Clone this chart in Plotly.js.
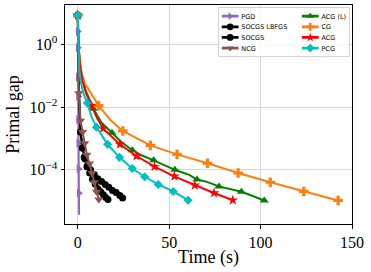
<!DOCTYPE html>
<html><head><meta charset="utf-8">
<script src="https://cdn.plot.ly/plotly-3.0.1.min.js"></script>
<style>html,body{margin:0;padding:0;background:#fff}</style>
</head><body><div id="chart" style="width:371px;height:272px"></div>
<script>
// ---- data (time in s, primal gap) ----
const pgdTime = [0, 0.05, 0.1, 0.15, 0.2, 0.3, 0.4, 0.5, 0.6, 0.7];
const pgdGap  = [8.5, 2.6, 0.79, 0.091, 0.022, 0.004, 7.2e-4, 1.07e-4, 1.8e-5, 3.7e-6];
const pgdMarks = [0, 1, 2, 3, 4, 5, 6, 7, 8];

const lbfgsTime = [0, 0.3, 0.8, 1.5, 2.5, 4, 5.5, 7, 9, 11, 13, 15, 17, 19, 21, 23, 24.5];
const lbfgsGap  = [8.5, 0.32, 0.016, 1.6e-3, 5e-4, 2.2e-4, 1.4e-4, 1e-4, 7.1e-5, 5.2e-5, 4.2e-5, 3.4e-5, 2.75e-5, 2.2e-5, 1.9e-5, 1.5e-5, 1.26e-5];
const lbfgsMarks = [0, 3, 4, 5, 6, 7, 8, 9, 10, 11, 12, 13, 14, 15, 16];

const socgsTime = [0, 0.3, 0.8, 1.5, 2.5, 3.5, 5, 6.5, 8, 9.5, 11, 12.5, 14, 15.3, 16.5];
const socgsGap  = [8.5, 0.32, 0.016, 1.6e-3, 5e-4, 2.5e-4, 1.26e-4, 7.9e-5, 5e-5, 3.5e-5, 2.5e-5, 2e-5, 1.6e-5, 1.3e-5, 1.12e-5];
const socgsMarks = [0, 3, 4, 5, 6, 7, 8, 9, 10, 11, 12, 13, 14];

const ncgTime = [0, 0.5, 1.5, 2.6, 3.8, 5, 6.4, 7.8, 9, 10.2, 11.5];
const ncgGap  = [8.5, 0.028, 3.7e-3, 1.6e-3, 7.1e-4, 3e-4, 1.6e-4, 7.9e-5, 4e-5, 2e-5, 1.12e-5];
const ncgMarks = [0, 1, 2, 3, 4, 5, 6, 7, 8, 9, 10];

const acglTime = [0, 0.4, 1.2, 2.5, 4.5, 8.5, 13, 18.7, 24, 29.8, 35.5, 41.5, 47, 53.1, 56, 61, 65.2, 70.3, 77.2, 83, 89.5, 95, 102];
const acglGap  = [8.5, 1, 0.25, 0.079, 0.032, 8.9e-3, 3.2e-3, 1.51e-3, 7.6e-4, 4.2e-4, 2.8e-4, 2.0e-4, 1.41e-4, 1e-4, 8.7e-5, 6.9e-5, 4.9e-5, 4.2e-5, 2.95e-5, 2.5e-5, 2.0e-5, 1.51e-5, 1.05e-5];
const acglMarks = [0, 5, 7, 9, 11, 13, 16, 18, 20, 22];

const cgTime = [0, 0.3, 1, 2, 4, 6.5, 9, 11.4, 18, 24.6, 39.7, 54.3, 71, 87.7, 105.3, 123.6, 142.4];
const cgGap  = [8.5, 1.0, 0.32, 0.126, 0.056, 0.032, 0.018, 0.0112, 3.8e-3, 1.74e-3, 6.0e-4, 3.1e-4, 1.62e-4, 7.9e-5, 4e-5, 2.04e-5, 1.05e-5];
const cgMarks = [0, 7, 9, 10, 11, 12, 13, 14, 15, 16];

const acgTime = [0, 0.4, 1.2, 2.5, 4.5, 7.5, 10.5, 13.8, 23, 32.1, 42, 52.8, 64, 74.5, 84.8];
const acgGap  = [8.5, 0.89, 0.224, 0.071, 0.028, 0.0112, 4.5e-3, 2.1e-3, 6.5e-4, 2.75e-4, 1.26e-4, 6.2e-5, 3.2e-5, 1.82e-5, 1.07e-5];
const acgMarks = [0, 5, 7, 8, 9, 10, 11, 12, 13, 14];

const pcgTime = [0, 0.3, 0.8, 1.5, 3, 5.2, 7.5, 10.2, 16.3, 22.8, 29.8, 36.6, 44, 52.2, 60.3];
const pcgGap  = [8.5, 0.5, 0.158, 0.071, 0.028, 0.0135, 5e-3, 2.3e-3, 6.5e-4, 2.5e-4, 1.1e-4, 6e-5, 3.4e-5, 2.04e-5, 1.07e-5];
const pcgMarks = [0, 5, 7, 8, 9, 10, 11, 12, 13, 14];

const xTicks = [0, 50, 100, 150];
const yTicks = [1, 1e-2, 1e-4];
const yTickText = ['10<sup>0</sup>', '10<sup>−2</sup>', '10<sup>−4</sup>'];

// ---- build traces ----
const traces = [];
function addSeries(name, t, g, marks, color, symbol, msize, rank) {
  traces.push({x: t, y: g, type: 'scatter', mode: 'lines', line: {color: color, width: 2},
               showlegend: false, hoverinfo: 'skip'});
  const mx = [], my = [];
  marks.forEach(i => { mx.push(t[i], null); my.push(g[i], null); });
  traces.push({x: mx, y: my, type: 'scatter', mode: 'lines+markers', connectgaps: false,
               name: name, legendrank: rank, line: {color: color, width: 2.5},
               marker: {color: color, symbol: symbol, size: msize}});
}
addSeries('PGD', pgdTime, pgdGap, pgdMarks, '#9467bd', 'triangle-right', 8, 1);
addSeries('SOCGS LBFGS', lbfgsTime, lbfgsGap, lbfgsMarks, '#000000', 'circle', 7, 3);
addSeries('SOCGS', socgsTime, socgsGap, socgsMarks, '#000000', 'circle', 7, 5);
addSeries('NCG', ncgTime, ncgGap, ncgMarks, '#8c564b', 'triangle-down', 8, 7);
addSeries('ACG (L)', acglTime, acglGap, acglMarks, '#008000', 'triangle-up', 8, 2);
addSeries('CG', cgTime, cgGap, cgMarks, '#ff7f0e', 'cross', 8, 4);
addSeries('ACG', acgTime, acgGap, acgMarks, '#ff0000', 'star', 8, 6);
addSeries('PCG', pcgTime, pcgGap, pcgMarks, '#00bfbf', 'diamond', 7, 8);

const serif = 'Liberation Serif, DejaVu Serif, serif';
const layout = {
  width: 371, height: 272,
  margin: {l: 65, r: 19, t: 5, b: 48},
  paper_bgcolor: '#ffffff', plot_bgcolor: '#ffffff',
  font: {family: serif, size: 16, color: '#000'},
  xaxis: {
    range: [-7, 150], tickvals: xTicks, ticks: 'outside', ticklen: 3.5, tickcolor: '#000',
    showline: true, mirror: true, linecolor: '#000', linewidth: 1,
    showgrid: true, gridcolor: '#d6d6d6', zeroline: false,
    tickfont: {family: serif, size: 16},
    title: {text: 'Time (s)', font: {family: serif, size: 18}, standoff: 0}
  },
  yaxis: {
    type: 'log', range: [-5.73, 1.26], tickvals: yTicks, ticktext: yTickText,
    ticks: 'outside', ticklen: 3.5, tickcolor: '#000',
    showline: true, mirror: true, linecolor: '#000', linewidth: 1,
    showgrid: true, gridcolor: '#d6d6d6', zeroline: false,
    tickfont: {family: serif, size: 16},
    title: {text: 'Primal gap', font: {family: serif, size: 18}, standoff: 5}
  },
  legend: {
    orientation: 'h', x: 1, xanchor: 'right', y: 0.99, yanchor: 'top',
    font: {family: 'DejaVu Sans, sans-serif', size: 11.6, color: '#000'},
    bgcolor: 'rgba(255,255,255,0.8)', bordercolor: '#cccccc', borderwidth: 1.5,
    entrywidth: 98, itemwidth: 30, itemsizing: 'constant', tracegroupgap: 0,
    traceorder: 'normal'
  },
  showlegend: true
};

Plotly.newPlot('chart', traces, layout, {staticPlot: true}).then(gd => {
  // compact legend box like the reference: scale it down, trim to its texts, pin top-right corner
  const lg = gd.querySelector('.legend');
  if (!lg) return;
  const bg = lg.querySelector('.bg');
  const m = /translate\(\s*([-\d.e]+)[ ,]+([-\d.e]+)\s*\)/.exec(lg.getAttribute('transform') || '');
  if (!bg || !m) return;
  const s = 0.56;
  const ty = +m[2];
  lg.setAttribute('transform', 'translate(0,' + ty + ') scale(' + s + ')');
  const bgLeft = bg.getBoundingClientRect().left;
  let maxRight = -Infinity;
  lg.querySelectorAll('text.legendtext').forEach(t => {
    maxRight = Math.max(maxRight, t.getBoundingClientRect().right);
  });
  const newW = (maxRight - bgLeft) / s + 6;
  bg.setAttribute('width', newW);
  const rightEdge = 349;
  lg.setAttribute('transform', 'translate(' + (rightEdge - newW * s) + ',' + ty + ') scale(' + s + ')');
});
</script>
</body></html>
